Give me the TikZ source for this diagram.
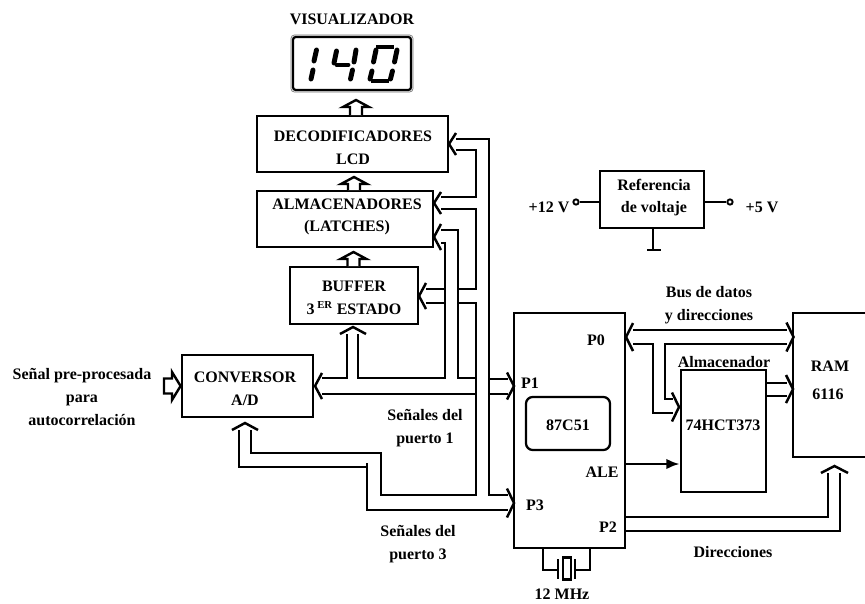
\documentclass[tikz,border=0pt]{standalone}
\usepackage{fontspec}
\setmainfont{Liberation Serif}
\usetikzlibrary{calc,arrows.meta}
\tikzset{
  wire/.style={draw=black,line width=1.85pt,line join=miter,line cap=butt},
  lbl/.style={font=\fontsize{12}{17}\selectfont\bfseries,align=center,inner sep=0pt,text=black},
  seg/.style={draw=black,line width=3.7pt,line cap=round},
  thinseg/.style={draw=black,line width=3pt,line cap=butt},
  fat/.style={draw=black,line width=1.8pt,fill=white,line join=miter},
  boxline/.style={draw=black,line width=2.12pt,inner sep=0pt}
}
\newcommand\chevL[2]{\draw[wire] ($(#1)+(7,-#2)$) -- (#1) -- ($(#1)+(7,#2)$);}
\newcommand\chevR[2]{\draw[wire] ($(#1)+(-7,-#2)$) -- (#1) -- ($(#1)+(-7,#2)$);}
\newcommand\chevU[2]{\draw[wire] ($(#1)+(-#2,7)$) -- (#1) -- ($(#1)+(#2,7)$);}
\newcommand\fatU[2]{\draw[fat] ($(#1)+(-6,#2)$) -- ($(#1)+(-6,7)$) -- ($(#1)+(-13,7)$) -- (#1) -- ($(#1)+(13,7)$) -- ($(#1)+(6,7)$) -- ($(#1)+(6,#2)$);}
\begin{document}
\begin{tikzpicture}[x=0.75pt,y=-0.75pt]
\fill[white] (0,0) rectangle (865,604);
\useasboundingbox (0,0) rectangle (865,604);
% ---- boxes
\node[draw=black!55,line width=.5pt,rounded corners=2.5pt,minimum width=91.5pt,minimum height=42.75pt,inner sep=0pt] (dispo) at (352,63.5) {};
\node[draw=black,line width=1.7pt,inner sep=0pt,rounded corners=2pt,minimum width=88.5pt,minimum height=39.75pt] (disp) at (352,63.5) {};
\node[boxline,minimum width=143.25pt,minimum height=42pt] (dec) at (352.5,144) {};
\node[boxline,minimum width=132pt,minimum height=42pt] (alm) at (345,219) {};
\node[boxline,minimum width=96pt,minimum height=42.75pt] (buf) at (354,295.5) {};
\node[boxline,minimum width=98.25pt,minimum height=46.5pt] (con) at (247.5,386) {};
\node[boxline,minimum width=83.25pt,minimum height=176.25pt] (mcu) at (569.5,430.5) {};
\node[draw=black,line width=1.7pt,inner sep=0pt,rounded corners=5pt,minimum width=63pt,minimum height=39.75pt] (chip) at (568,423.5) {};
\node[boxline,minimum width=63.75pt,minimum height=91.5pt] (hct) at (723.5,431) {};
\node[minimum width=57pt,minimum height=108pt,inner sep=0pt] (ram) at (831,385) {};
\draw[line width=1.7pt] (ram.north east) -- (ram.north west) -- (ram.south west) -- (ram.south east);
\node[boxline,minimum width=78pt,minimum height=42.75pt] (ref) at (652,199.5) {};
% ---- seven segment digits
\draw[seg] (316.5,50) -- (314,61); \draw[seg] (313,70) -- (311,79);
\draw[seg] (336.5,51) -- (334,63); \draw[seg] (337,65) -- (348,65);
\draw[seg] (356,50) -- (354,62); \draw[seg] (352.5,70) -- (350.5,79);
\draw[seg] (376,50) -- (373.5,62); \draw[seg] (372,71) -- (370,79);
\draw[seg] (397,50) -- (394.5,62); \draw[seg] (392.5,71) -- (390.5,79);
\draw[thinseg] (376,46.5) -- (394,46.5); \draw[thinseg] (371,80.5) -- (389,80.5);
% ---- block arrows
\coordinate (a0) at (356,100); \fatU{a0}{15}
\coordinate (a1) at (354,177); \fatU{a1}{13}
\coordinate (a2) at (353.5,252); \fatU{a2}{14}
\draw[fat] (164,378.5) -- (172,378.5) -- (172,372) -- (con.west |- 0,386) -- (172,400) -- (172,393.5) -- (164,393.5) -- cycle;
% ---- bus heads
\coordinate (hDec) at (449,144); \chevL{hDec}{11}
\coordinate (hAlm1) at (434,203); \chevL{hAlm1}{11}
\coordinate (hAlm2) at (434,237); \chevL{hAlm2}{13}
\coordinate (hBuf) at (419,296); \chevL{hBuf}{13}
\coordinate (hCon) at (315,386); \chevL{hCon}{13}
\coordinate (hP1) at (514,386); \chevR{hP1}{13.5}
\coordinate (hP3) at (514,503); \chevR{hP3}{14.5}
\coordinate (hBufUp) at (353,327); \chevU{hBufUp}{13}
\coordinate (hConUp) at (245,423); \chevU{hConUp}{13}
\coordinate (hRamUp) at (834.5,466); \chevU{hRamUp}{13.5}
\coordinate (hP0) at (626,337); \chevL{hP0}{14}
\coordinate (hRam1) at (793.5,337); \chevR{hRam1}{14.5}
\coordinate (hRam2) at (793,389); \chevR{hRam2}{14}
\coordinate (hHct) at (679,407); \chevR{hHct}{14.5}
% ---- left bus wiring
\draw[wire] (456,139) coordinate (w1) -- (489,139) -- (489,495) -- (508,495) coordinate (w1e);
\draw[wire] (489,379) coordinate (w1b) -- (508,379) coordinate (w1c);
\draw[wire] (456,150) coordinate (w2) -- (476,150) -- (476,197) -- (441,197) coordinate (w2e);
\draw[wire] (441,209) coordinate (w3) -- (476,209) -- (476,289) -- (458,289) coordinate (w3e);
\draw[wire] (445,289) coordinate (w3f) -- (426,289) coordinate (w3g);
\draw[wire] (426,303) coordinate (w4) -- (445,303) coordinate (w4a);
\draw[wire] (458,303) coordinate (w4b) -- (476,303) -- (476,495) -- (381,495) -- (381,453) -- (251,453) -- (251,430) coordinate (w4e);
\draw[wire] (441,230) coordinate (w5) -- (458,230) -- (458,378) -- (476,378) coordinate (w5e);
\draw[wire] (441,243) coordinate (w6) -- (445,243) -- (445,378) -- (358,378) -- (358,334) coordinate (w6e);
\draw[wire] (347,334) coordinate (w7) -- (347,378) -- (322,378) coordinate (w7e);
\draw[wire] (322,394) coordinate (w8) -- (476,394) coordinate (w8e);
\draw[wire] (489,394) coordinate (w8f) -- (508,394) coordinate (w8g);
\draw[wire] (239,430) coordinate (w9) -- (239,467) -- (367,467) coordinate (w9e);
\draw[wire] (367,463) coordinate (w10) -- (367,510) -- (508,510) coordinate (w10e);
% ---- right bus wiring
\draw[wire] (633,330) coordinate (b1) -- (787,330) coordinate (b1e);
\draw[wire] (633,344) coordinate (b2) -- (653,344) -- (653,413) -- (673,413) coordinate (b2e);
\draw[wire] (787,344) coordinate (b3) -- (665,344) -- (665,399) -- (673,399) coordinate (b3e);
\draw[wire] (hct.east |- 0,383) -- (787,383) coordinate (b4e);
\draw[wire] (hct.east |- 0,396) -- (787,396) coordinate (b5e);
\draw[wire,-{Latex[length=10pt,width=8pt]}] (mcu.east |- 0,464) -- (hct.west |- 0,464);
\draw[wire] (mcu.east |- 0,517) -- (828,517) -- (828,473) coordinate (b6e);
\draw[wire] (mcu.east |- 0,531) -- (840,531) -- (840,473) coordinate (b7e);
% ---- crystal
\node[boxline,minimum width=6pt,minimum height=17pt] (xt) at (567,568.5) {};
\coordinate (xl) at (558,570); \coordinate (xr) at (575,570);
\draw[wire] (xl |- 0,559) -- (xl |- 0,579);
\draw[wire] (xr |- 0,559) -- (xr |- 0,579);
\draw[wire] (543,548) -- (543,570) -- (xl);
\draw[wire] (590,548) -- (590,570) -- (xr);
% ---- voltage reference
\node[circle,draw=black,line width=1.4pt,minimum size=4pt,inner sep=0pt] (v12) at (576,202) {};
\node[circle,draw=black,line width=1.4pt,minimum size=4pt,inner sep=0pt] (v5) at (730,202) {};
\draw[wire] (v12) -- (ref.west |- v12);
\draw[wire] (ref.east |- v5) -- (v5);
\coordinate (gnd) at (653,250);
\draw[wire] (ref.south -| gnd) -- (gnd);
\draw[wire] (647,250) -- (661,250);
% ---- labels
\node[lbl] (t1) at (352,19) {VISUALIZADOR};
\node[lbl] (t2) at (353,147.5) {DECODIFICADORES\\LCD};
\node[lbl] (t3) at (347,217) {ALMACENADORES\\(LATCHES)};
\node[lbl] (t4) at (354,298) {BUFFER\\3\,\textsuperscript{ER} ESTADO};
\node[lbl] (t5) at (245,389) {CONVERSOR\\A/D};
\node[lbl] (t6) at (82,397) {Señal pre-procesada\\para\\autocorrelación};
\node[lbl] (t7) at (425,428) {Señales del\\puerto 1};
\node[lbl] (t8) at (418,544) {Señales del\\puerto 3};
\node[lbl] (t9) at (530,383) {P1};
\node[lbl] (t10) at (535,505) {P3};
\node[lbl] (t11) at (596,340) {P0};
\node[lbl] (t12) at (602,472) {ALE};
\node[lbl] (t13) at (608,527) {P2};
\node[lbl] (t14) at (568,425) {87C51};
\node[lbl] (t15) at (562,594) {12 MHz};
\node[lbl] (t16) at (733,552) {Direcciones};
\node[lbl] (t17) at (709,305) {Bus de datos\\y direcciones};
\node[lbl] (t18) at (724,362) {Almacenador};
\node[lbl] (t19) at (723,425) {74HCT373};
\node[lbl] (t20) at (830,366) {RAM};
\node[lbl] (t21) at (828,394) {6116};
\node[lbl] (t22) at (654,197.5) {Referencia\\de voltaje};
\node[lbl] (t23) at (549,207) {+12 V};
\node[lbl] (t24) at (762,207) {+5 V};
\end{tikzpicture}
\end{document}
